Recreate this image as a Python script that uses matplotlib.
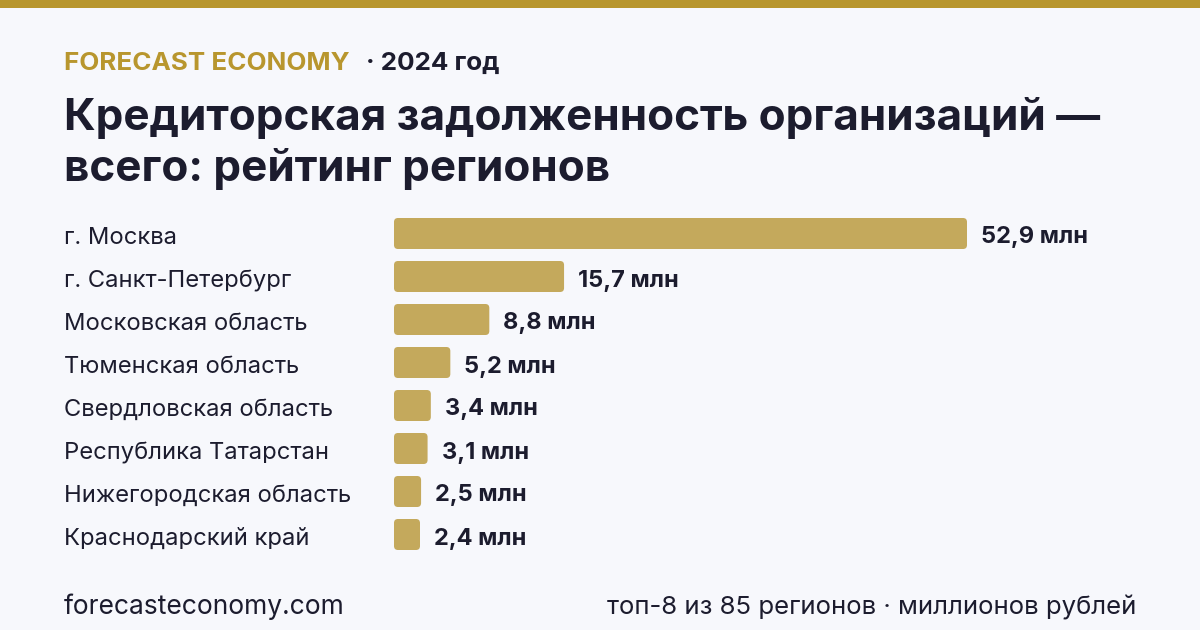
import matplotlib
matplotlib.use("Agg")
import matplotlib.pyplot as plt
import matplotlib.transforms as mtransforms
from matplotlib.patches import FancyBboxPatch, Rectangle

regions = ["г. Москва", "г. Санкт-Петербург", "Московская область", "Тюменская область",
           "Свердловская область", "Республика Татарстан", "Нижегородская область",
           "Краснодарский край"]
values = [52.9, 15.7, 8.8, 5.2, 3.4, 3.1, 2.5, 2.4]
value_labels = ["52,9 млн", "15,7 млн", "8,8 млн", "5,2 млн", "3,4 млн", "3,1 млн", "2,5 млн", "2,4 млн"]

W, H = 1200, 630
BG = "#f7f8fc"
GOLD = "#b8962e"
BAR = "#c4a95c"
DARK = "#1c1c2e"
plt.rcParams['font.family'] = ['Inter', 'DejaVu Sans']

fig = plt.figure(figsize=(W/100, H/100), dpi=100, facecolor=BG)

def px(x, y):
    return x / W, 1 - y / H

# top gold strip
fig.patches.append(Rectangle((0, 1 - 8/H), 1, 8/H, transform=fig.transFigure,
                             facecolor=GOLD, edgecolor='none'))

fig.text(*px(64, 70), "FORECAST ECONOMY", color=GOLD, fontsize=18.7, fontweight='bold',
         va='baseline', ha='left')
fig.text(*px(366, 70), "· 2024 год", color=DARK, fontsize=18.7, fontweight='bold',
         va='baseline', ha='left')
fig.text(*px(64, 130), "Кредиторская задолженность организаций —", color=DARK,
         fontsize=31.7, fontweight='bold', va='baseline', ha='left')
fig.text(*px(64, 181), "всего: рейтинг регионов", color=DARK,
         fontsize=31.7, fontweight='bold', va='baseline', ha='left')

fig.text(*px(64, 614), "forecasteconomy.com", color=DARK, fontsize=19, va='baseline', ha='left')
fig.text(*px(1136, 614), "топ-8 из 85 регионов · миллионов рублей", color=DARK,
         fontsize=18.55, va='baseline', ha='right')

# axes for bars
scale = (967 - 394) / 52.9  # px per unit
ax_left, ax_right = 394, 1200
ax_top, ax_bot = 212, 556
ax = fig.add_axes([ax_left / W, 1 - ax_bot / H, (ax_right - ax_left) / W, (ax_bot - ax_top) / H])
ax.set_facecolor('none')
ax.set_xlim(0, (ax_right - ax_left) / scale)
spacing = 43
ax.set_ylim((ax_bot - 233.5) / spacing, (ax_top - 233.5) / spacing)
ax.axis('off')

blend = mtransforms.blended_transform_factory(fig.transFigure, ax.transData)

bh = 31 / spacing
rx = 4 / scale
ry = 4 / spacing
off_lab = 10.5 / spacing
off_val = 10 / spacing
bars = ax.barh(range(len(values)), values, height=bh, color='none')
for i, (b, v) in enumerate(zip(bars, values)):
    x0, y0, w, h = b.get_x(), b.get_y(), b.get_width(), b.get_height()
    p = FancyBboxPatch((x0, y0), w, h, boxstyle=f"round,pad=0,rounding_size={rx}",
                       mutation_aspect=ry / rx, facecolor=BAR, edgecolor='none')
    ax.add_patch(p)
    ax.text(v + 14 / scale, i + off_val, value_labels[i], color=DARK, fontsize=17,
            fontweight='bold', va='baseline', ha='left')
    fig.text(64 / W, i + off_lab, regions[i], color=DARK, fontsize=17.1, va='baseline', ha='left',
             transform=blend)

fig.savefig("out.png", dpi=100, facecolor=BG)
